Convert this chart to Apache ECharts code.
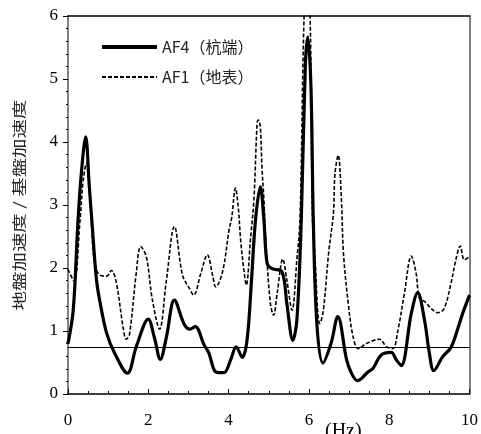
<!DOCTYPE html>
<html>
<head>
<meta charset="utf-8">
<script src="https://cdn.jsdelivr.net/npm/echarts@6/dist/echarts.min.js"></script>
<style>
html,body{margin:0;padding:0;background:#fff;}
#chart{width:481px;height:434px;}
</style>
</head>
<body>
<div id="chart"></div>
<script>
// AF4 (pile tip)
const af4X = [0, 0.13, 0.25, 0.34, 0.44, 0.53, 0.6, 0.71, 0.8, 0.96, 1.16, 1.48, 1.7, 2.0, 2.15, 2.3, 2.45, 2.65, 2.9, 3.04, 3.17, 3.39, 3.51, 3.64, 3.75, 3.89, 4.05, 4.19, 4.34, 4.46, 4.57, 4.67, 4.79, 4.88, 4.96, 5.08, 5.33, 5.45, 5.6, 5.7, 5.81, 5.91, 5.97, 6.05, 6.11, 6.2, 6.35, 6.55, 6.72, 6.94, 7.06, 7.21, 7.47, 7.6, 7.8, 8.05, 8.18, 8.3, 8.55, 8.71, 8.88, 9.0, 9.11, 9.33, 9.54, 9.7, 9.83, 10];
const af4Y = [0.8, 1.33, 2.76, 3.56, 4.08, 3.3, 2.7, 1.81, 1.45, 0.97, 0.65, 0.33, 0.75, 1.19, 0.9, 0.55, 0.9, 1.49, 1.1, 1.03, 1.07, 0.78, 0.65, 0.38, 0.34, 0.34, 0.54, 0.75, 0.58, 0.86, 1.8, 2.76, 3.29, 2.76, 2.07, 1.99, 1.94, 1.44, 0.85, 1.17, 2.76, 5.2, 5.67, 4.9, 2.76, 1.1, 0.49, 0.8, 1.23, 0.54, 0.33, 0.21, 0.35, 0.41, 0.62, 0.66, 0.54, 0.45, 1.28, 1.61, 1.17, 0.65, 0.37, 0.59, 0.74, 1.02, 1.28, 1.57];
// AF1 (ground surface)
const af1X = [0, 0.15, 0.3, 0.38, 0.46, 0.55, 0.63, 0.71, 0.79, 0.96, 1.08, 1.2, 1.37, 1.45, 1.53, 1.7, 1.81, 1.95, 2.1, 2.28, 2.45, 2.65, 2.85, 3.02, 3.13, 3.31, 3.47, 3.6, 3.68, 3.85, 4.01, 4.08, 4.17, 4.24, 4.3, 4.38, 4.44, 4.55, 4.63, 4.71, 4.74, 4.79, 4.83, 4.88, 4.92, 5.04, 5.12, 5.21, 5.35, 5.45, 5.58, 5.7, 5.78, 5.88, 5.955, 6.03, 6.09, 6.16, 6.22, 6.27, 6.36, 6.49, 6.61, 6.65, 6.73, 6.81, 6.86, 6.98, 7.1, 7.23, 7.43, 7.76, 7.93, 8.09, 8.22, 8.38, 8.55, 8.67, 8.75, 8.88, 9.04, 9.21, 9.37, 9.54, 9.66, 9.77, 9.87, 10];
const af1Y = [1.98, 1.79, 2.76, 3.4, 3.66, 3.1, 2.24, 1.97, 1.89, 1.87, 1.96, 1.78, 1.07, 0.87, 0.94, 1.92, 2.34, 2.18, 1.5, 1.03, 1.8, 2.66, 1.89, 1.68, 1.57, 1.92, 2.21, 1.89, 1.7, 1.94, 2.6, 2.81, 3.27, 2.97, 2.44, 1.97, 1.73, 2.5, 3.08, 4.3, 4.35, 4.24, 3.61, 3.08, 2.5, 1.44, 1.25, 1.6, 2.14, 1.81, 1.33, 2.13, 2.81, 6.0, 6.6, 6.0, 2.76, 2.07, 1.3, 1.12, 1.33, 2.23, 2.87, 3.5, 3.79, 3.08, 2.24, 1.44, 0.91, 0.72, 0.8, 0.87, 0.75, 0.72, 1.02, 1.6, 2.19, 1.92, 1.52, 1.47, 1.36, 1.29, 1.36, 1.76, 2.13, 2.35, 2.13, 2.18];
const refLevel = 0.75;
const seriesNames = ['AF4（杭端）', 'AF1（地表）'];
const yAxisTitle = '地盤加速度 / 基盤加速度';
const xAxisTitle = '(Hz)';

const pair = (xs, ys) => xs.map((x, i) => [x, ys[i]]);
const serif = 'Liberation Serif';
const cjk = '"Noto Sans CJK SC", "Noto Sans", sans-serif';

const chart = echarts.init(document.getElementById('chart'), null, {renderer: 'canvas'});
chart.setOption({
  animation: false,
  backgroundColor: '#fff',
  grid: {left: 68, right: 9, top: 16, bottom: 40, containLabel: false},
  legend: {
    orient: 'vertical', left: 100, top: 39, padding: 0,
    itemWidth: 55, itemHeight: 14, itemGap: 14,
    itemStyle: {opacity: 0},
    textStyle: {fontFamily: cjk, fontSize: 16, color: '#222'},
    data: [
      {name: seriesNames[0], lineStyle: {width: 4}},
      {name: seriesNames[1], lineStyle: {width: 1.8}}
    ]
  },
  xAxis: [{
    type: 'value', min: 0, max: 10, interval: 2,
    axisLine: {show: true, onZero: false, lineStyle: {color: '#000', width: 1.5}},
    axisTick: {show: true, inside: true, length: 5, lineStyle: {color: '#000', width: 1}},
    minorTick: {show: true, splitNumber: 4, length: 3, lineStyle: {color: '#000', width: 1}},
    axisLabel: {fontFamily: serif, fontSize: 17, color: '#000', margin: 18},
    splitLine: {show: false}
  }, {
    type: 'value', min: 0, max: 10, position: 'top',
    axisLine: {show: true, onZero: false, lineStyle: {color: '#000', width: 1.5}},
    axisTick: {show: false}, axisLabel: {show: false}, splitLine: {show: false}
  }],
  yAxis: [{
    type: 'value', min: 0, max: 6, interval: 1,
    axisLine: {show: true, onZero: false, lineStyle: {color: '#808080', width: 2}},
    axisTick: {show: true, inside: false, length: 5, lineStyle: {color: '#000', width: 1}},
    minorTick: {show: true, splitNumber: 5, length: 2, lineStyle: {color: '#000', width: 1}},
    axisLabel: {fontFamily: serif, fontSize: 17, color: '#000', margin: 10},
    splitLine: {show: false}
  }, {
    type: 'value', min: 0, max: 6, position: 'right',
    axisLine: {show: true, onZero: false, lineStyle: {color: '#808080', width: 2}},
    axisTick: {show: false}, axisLabel: {show: false}, splitLine: {show: false}
  }],
  series: [{
    name: seriesNames[0], type: 'line', data: pair(af4X, af4Y),
    showSymbol: false, symbol: 'none', smooth: 0.35, clip: true,
    lineStyle: {color: '#000', width: 3.2},
    itemStyle: {color: '#000'},
    z: 3,
    markLine: {
      silent: true, symbol: ['none', 'none'], label: {show: false},
      lineStyle: {color: '#000', width: 1, type: 'solid'},
      data: [{yAxis: refLevel}]
    }
  }, {
    name: seriesNames[1], type: 'line', data: pair(af1X, af1Y),
    showSymbol: false, symbol: 'none', smooth: 0.35, clip: true,
    lineStyle: {color: '#000', width: 1.6, type: [4, 2]},
    itemStyle: {color: '#000'},
    z: 2
  }],
  graphic: [{
    type: 'text', x: 19, y: 205, rotation: Math.PI / 2, scaleX: 1.39,
    style: {text: yAxisTitle, font: '14px "Noto Sans CJK JP", sans-serif', fill: '#222', align: 'center', verticalAlign: 'middle'}
  }, {
    type: 'text', left: 325, top: 422,
    style: {text: xAxisTitle, font: '20px "Liberation Serif", serif', fill: '#000'}
  }]
});
</script>
</body>
</html>
